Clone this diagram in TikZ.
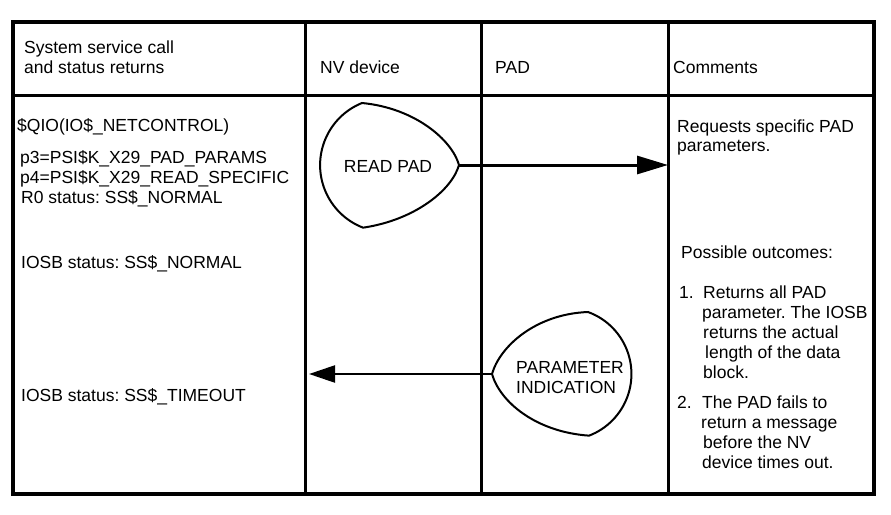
\documentclass[tikz,border=0pt]{standalone}
\usepackage{fontspec}
\setmainfont{Liberation Sans}
\usetikzlibrary{arrows.meta}
\frenchspacing
\begin{document}
\begin{tikzpicture}[x=1pt,y=-1pt,
  txt/.style={anchor=base west,inner sep=0pt,font=\fontsize{17.5}{20}\selectfont},
  ctxt/.style={anchor=base,inner sep=0pt,font=\fontsize{17.5}{20}\selectfont},
  frame/.style={line width=3.2pt},
  divider/.style={line width=3pt},
  drop/.style={line width=2pt},
  msgR/.style={line width=3pt,-{Triangle[length=31pt,width=18pt]}},
  msgL/.style={line width=2.3pt,-{Triangle[length=26pt,width=17pt]}}]
\useasboundingbox (0,0) rectangle (891,514);
% table frame
\draw[frame] (13,22) rectangle (874,494);
\draw[divider] (13,95) -- (874,95);
\draw[divider] (305,22) -- (305,494);
\draw[divider] (481,22) -- (481,494);
\draw[divider] (668,22) -- (668,494);
% headers
\node[txt] (h1) at (24,53) {System service call};
\node[txt] (h2) at (24,73) {and status returns};
\node[txt] (hnv) at (320,73) {NV device};
\node[txt] (hpad) at (495,73) {PAD};
\node[txt] (hcom) at (673,73) {Comments};
% left column
\node[txt] (qio) at (17,131) {\$QIO(IO\$\_NETCONTROL)};
\node[txt] (p3) at (20,163) {p3=PSI\$K\_X29\_PAD\_PARAMS};
\node[txt] (p4) at (20,183) {p4=PSI\$K\_X29\_READ\_SPECIFIC};
\node[txt] (r0) at (21,203) {R0 status: SS\$\_NORMAL};
\node[txt] (iosbn) at (21,268) {IOSB status: SS\$\_NORMAL};
\node[txt] (iosbt) at (21,401) {IOSB status: SS\$\_TIMEOUT};
% READ PAD teardrop
\draw[drop] (362,103) arc[start angle=112,end angle=249,radius=67pt]
  .. controls (415,220) and (452,190) .. (459,165)
  .. controls (452,140) and (415,108) .. cycle;
\coordinate (rptip) at (459,165);
\node[ctxt] (readpad) at (388,172) {READ PAD};
% PARAMETER INDICATION teardrop
\draw[drop] (588,312) arc[start angle=70,end angle=-69,radius=66pt]
  .. controls (536,432) and (500,402) .. (492,374)
  .. controls (500,346) and (536,314) .. cycle;
\coordinate (pitip) at (492,374);
\node[txt] (pi1) at (516,373) {PARAMETER};
\node[txt] (pi2) at (516,393) {INDICATION};
% connectors
\coordinate (comin) at (668,165);
\coordinate (nvin) at (309,374);
\draw[msgR] (rptip) -- (comin);
\draw[msgL] (pitip) -- (nvin);
% comments
\node[txt] (c1) at (677,132) {Requests specific PAD};
\node[txt] (c2) at (677,151) {parameters.};
\node[txt] (po) at (681,258) {Possible outcomes:};
\node[txt] (n1) at (679,298) {1.};
\node[txt] (o11) at (703,298) {Returns all PAD};
\node[txt] (o12) at (702,318) {parameter. The IOSB};
\node[txt] (o13) at (703,338) {returns the actual};
\node[txt] (o14) at (705,358) {length of the data};
\node[txt] (o15) at (703,378) {block.};
\node[txt] (n2) at (677,408) {2.};
\node[txt] (o21) at (702,408) {The PAD fails to};
\node[txt] (o22) at (701,428) {return a message};
\node[txt] (o23) at (703,448) {before the NV};
\node[txt] (o24) at (702,468) {device times out.};
\end{tikzpicture}
\end{document}
